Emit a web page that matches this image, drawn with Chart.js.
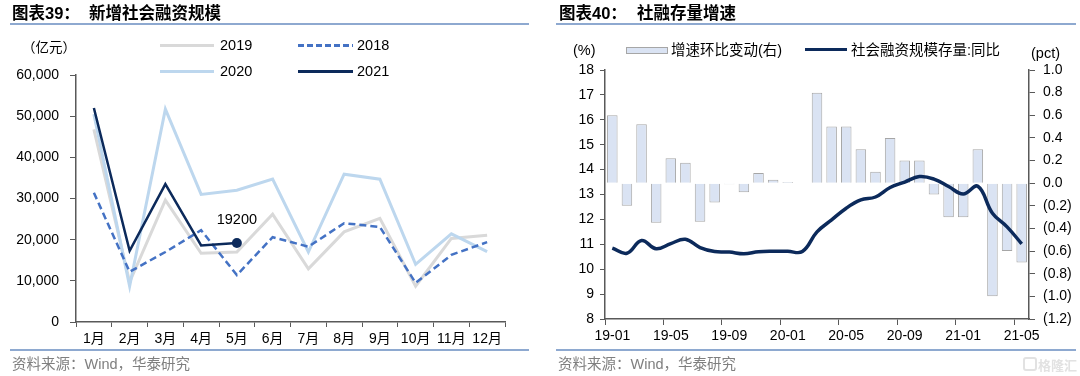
<!DOCTYPE html>
<html>
<head>
<meta charset="utf-8">
<script src="https://cdn.jsdelivr.net/npm/chart.js@4.4.1/dist/chart.umd.min.js"></script>
<style>
  body { margin: 0; background: #fff; width: 1080px; height: 376px; overflow: hidden; position: relative;
         font-family: Arial, "Liberation Sans", "Noto Sans CJK SC", sans-serif; color: #000; }
  canvas { position: absolute; top: 0; }
  .abs { position: absolute; white-space: nowrap; }
  .title { font-size: 16.5px; font-weight: bold; top: 3px; line-height: 20px; }
  .rule { position: absolute; height: 2px; background: #8ea9d0; }
  .src { font-size: 14.5px; color: #7f7f7f; top: 355px; line-height: 18px; }
  .leg { font-size: 14.5px; line-height: 16px; }
  .legline { position: absolute; height: 3px; }
</style>
</head>
<body>

<canvas id="chartSocial" width="540" height="376" style="left:0"></canvas>
<canvas id="chartStock" width="540" height="376" style="left:540px"></canvas>

<!-- cabecalhos e rodapes -->
<div class="abs title" style="left:12px">图表39：</div>
<div class="abs title" style="left:89px">新增社会融资规模</div>
<div class="rule" style="left:10px;width:519px;top:23px"></div>
<div class="rule" style="left:10px;width:519px;top:349px"></div>
<div class="abs src" style="left:12px">资料来源：Wind，华泰研究</div>

<div class="abs title" style="left:559px">图表40：</div>
<div class="abs title" style="left:637px">社融存量增速</div>
<div class="rule" style="left:556px;width:520px;top:23px"></div>
<div class="rule" style="left:556px;width:520px;top:349px"></div>
<div class="abs src" style="left:558px">资料来源：Wind，华泰研究</div>
<div class="abs" style="left:1023px;top:357px;width:10px;height:10px;border:2px solid #e2e2e2;border-radius:3px"></div>
<div class="abs" style="left:1038px;top:355px;font-size:13px;font-weight:bold;color:#e2e2e2;">格隆汇</div>

<!-- legenda esquerda -->
<div class="abs leg" style="left:22px;top:40px;font-size:13.5px">（亿元）</div>
<div class="legline" style="left:160px;width:54px;top:44px;background:#d9d9d9"></div>
<div class="abs leg" style="left:220px;top:37px">2019</div>
<div class="legline" style="left:298px;width:55px;top:44px;background:repeating-linear-gradient(to right,#4472c4 0 6px,transparent 6px 9px)"></div>
<div class="abs leg" style="left:357px;top:37px">2018</div>
<div class="legline" style="left:160px;width:54px;top:70px;background:#bdd7ee"></div>
<div class="abs leg" style="left:220px;top:63px">2020</div>
<div class="legline" style="left:298px;width:55px;top:70px;background:#0c2a5b"></div>
<div class="abs leg" style="left:357px;top:63px">2021</div>

<!-- legenda direita -->
<div class="abs leg" style="left:573px;top:42px">(%)</div>
<div class="abs" style="left:626px;top:47px;width:40px;height:5px;background:#dae3f3;border:1px solid #a6a6a6"></div>
<div class="abs leg" style="left:671px;top:42px">增速环比变动(右)</div>
<div class="legline" style="left:805px;width:42px;top:48px;background:#0c2a5b"></div>
<div class="abs leg" style="left:851px;top:42px">社会融资规模存量:同比</div>
<div class="abs leg" style="left:1031px;top:45px">(pct)</div>

<script>
// ---------------- dados do grafico 39 ----------------
var meses = ['1月', '2月', '3月', '4月', '5月', '6月', '7月', '8月', '9月', '10月', '11月', '12月'];
var dados2019 = [46800, 9700, 29600, 16700, 17000, 26200, 12900, 21900, 25200, 8700, 20300, 21100];
var dados2018 = [31400, 12200, 17000, 22300, 11400, 20600, 18300, 24000, 23100, 9500, 16300, 19400];
var dados2020 = [50500, 8700, 51700, 31000, 32000, 34700, 17000, 35900, 34700, 14000, 21400, 17100];
var dados2021 = [52000, 17300, 33500, 18600, 19200, null, null, null, null, null, null, null];
var indiceRotulo = 4; // 5月 -> 19200

// ---------------- dados do grafico 40 ----------------
var periodos = ['19-01', '19-02', '19-03', '19-04', '19-05', '19-06', '19-07', '19-08', '19-09', '19-10',
                '19-11', '19-12', '20-01', '20-02', '20-03', '20-04', '20-05', '20-06', '20-07', '20-08',
                '20-09', '20-10', '20-11', '20-12', '21-01', '21-02', '21-03', '21-04', '21-05'];
var variacaoMensal = [0.6, -0.2, 0.52, -0.35, 0.22, 0.18, -0.34, -0.17, -0.01, -0.08,
                      0.09, 0.03, 0.01, 0, 0.8, 0.5, 0.5, 0.3, 0.1, 0.4,
                      0.2, 0.2, -0.1, -0.3, -0.3, 0.3, -1.0, -0.6, -0.7];
var estoqueAnual = [10.85, 10.64, 11.15, 10.82, 11.03, 11.2, 10.87, 10.71, 10.69, 10.62,
                    10.7, 10.72, 10.72, 10.71, 11.5, 11.98, 12.45, 12.78, 12.9, 13.28,
                    13.5, 13.72, 13.62, 13.32, 13.02, 13.33, 12.25, 11.7, 11.02];

Chart.defaults.font.family = 'Arial, "Liberation Sans", "Noto Sans CJK SC", sans-serif';
Chart.defaults.font.size = 14;
Chart.defaults.color = '#000';

var corEixo = '#595959';

// rotulo do ultimo ponto de 2021
var pluginRotulo = {
  id: 'rotulo2021',
  afterDatasetsDraw: function (chart) {
    var meta = chart.getDatasetMeta(3);
    var pt = meta.data[indiceRotulo];
    var ctx = chart.ctx;
    ctx.save();
    ctx.font = '14.5px Arial, "Liberation Sans", sans-serif';
    ctx.fillStyle = '#000';
    ctx.textAlign = 'center';
    ctx.textBaseline = 'middle';
    ctx.fillText(String(dados2021[indiceRotulo]), pt.x, pt.y - 23);
    ctx.restore();
  }
};

var raios2021 = dados2021.map(function (v, i) { return i === indiceRotulo ? 5 : 0; });

new Chart(document.getElementById('chartSocial'), {
  type: 'line',
  data: {
    labels: meses,
    datasets: [
      { label: '2019', data: dados2019, borderColor: '#d9d9d9', borderWidth: 3, pointRadius: 0, tension: 0, order: 3 },
      { label: '2018', data: dados2018, borderColor: '#4472c4', borderWidth: 2.5, borderDash: [7, 4], pointRadius: 0, tension: 0, order: 1 },
      { label: '2020', data: dados2020, borderColor: '#bdd7ee', borderWidth: 3, pointRadius: 0, tension: 0, order: 2 },
      { label: '2021', data: dados2021, borderColor: '#0c2a5b', backgroundColor: '#0c2a5b', borderWidth: 2.5,
        pointRadius: raios2021, pointBorderWidth: 0, tension: 0, order: 0 }
    ]
  },
  options: {
    responsive: false,
    animation: false,
    devicePixelRatio: 1,
    layout: { padding: { top: 75, right: 35, bottom: 0, left: 0 } },
    plugins: { legend: { display: false }, tooltip: { enabled: false } },
    scales: {
      x: {
        type: 'category',
        offset: true,
        grid: { offset: true, drawOnChartArea: false, tickLength: 5, color: corEixo },
        border: { color: corEixo, width: 1.5 },
        ticks: { padding: 4, maxRotation: 0, autoSkip: false, font: { size: 14 } },
        afterFit: function (scale) { scale.height = 54; }
      },
      y: {
        min: 0, max: 60000,
        ticks: { stepSize: 10000, padding: 11, callback: function (v) { return v.toLocaleString('en-US'); } },
        grid: { drawOnChartArea: false, tickLength: 6, color: corEixo },
        border: { color: corEixo, width: 1.5 },
        afterFit: function (scale) { scale.width = 76; }
      }
    }
  },
  plugins: [pluginRotulo]
});

function formatoPct(v) {
  if (Math.abs(v) < 1e-9) return '0.0';
  if (v < 0) return '(' + (-v).toFixed(1) + ')';
  return v.toFixed(1);
}

new Chart(document.getElementById('chartStock'), {
  type: 'bar',
  data: {
    labels: periodos,
    datasets: [
      { type: 'line', label: '社会融资规模存量:同比', data: estoqueAnual, yAxisID: 'y',
        borderColor: '#0c2a5b', borderWidth: 3.5, pointRadius: 0, tension: 0.4, order: 0 },
      { type: 'bar', label: '增速环比变动(右)', data: variacaoMensal, yAxisID: 'y1',
        backgroundColor: '#dae3f3', borderColor: '#a6a6a6', borderWidth: 1,
        barPercentage: 0.72, categoryPercentage: 1.0, order: 1 }
    ]
  },
  options: {
    responsive: false,
    animation: false,
    devicePixelRatio: 1,
    layout: { padding: { top: 70, right: 0, bottom: 0, left: 0 } },
    plugins: { legend: { display: false }, tooltip: { enabled: false } },
    scales: {
      x: {
        type: 'category',
        offset: true,
        grid: {
          offset: true, drawOnChartArea: false, tickLength: 6,
          tickColor: function (ctx) { return ctx.index % 4 === 0 ? corEixo : 'rgba(0,0,0,0)'; }
        },
        border: { color: corEixo, width: 1.5 },
        ticks: {
          autoSkip: false, maxRotation: 0, padding: 3,
          callback: function (v, i) { return i % 4 === 0 ? periodos[i] : ''; }
        },
        afterFit: function (scale) { scale.height = 376 - 319; }
      },
      y: {
        position: 'left',
        min: 8, max: 18,
        ticks: { stepSize: 1, padding: 6 },
        grid: { drawOnChartArea: false, tickLength: 5, color: corEixo },
        border: { color: corEixo, width: 1.5 },
        afterFit: function (scale) { scale.width = 65; }
      },
      y1: {
        position: 'right',
        min: -1.2, max: 1.0,
        ticks: { stepSize: 0.2, padding: 8, callback: function (v) { return formatoPct(v); } },
        grid: { drawOnChartArea: false, tickLength: 6, color: corEixo },
        border: { color: corEixo, width: 1.5 },
        afterFit: function (scale) { scale.width = 51; }
      }
    }
  }
});
</script>
</body>
</html>
